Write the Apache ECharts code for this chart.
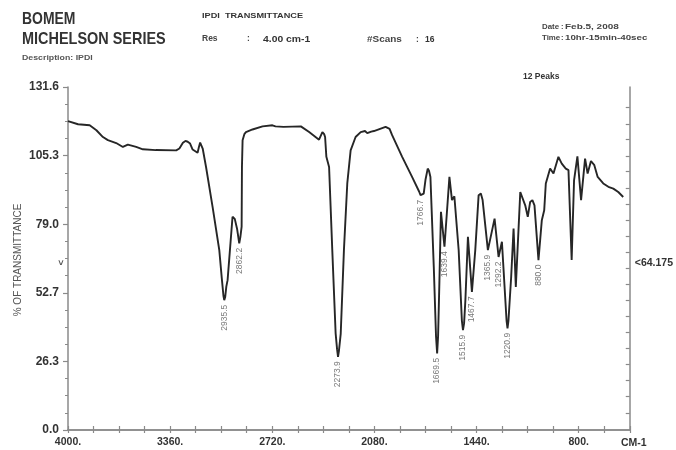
<!DOCTYPE html>
<html><head><meta charset="utf-8">
<script src="https://cdn.jsdelivr.net/npm/echarts@6/dist/echarts.min.js"></script>
<style>html,body{margin:0;padding:0;background:#fff}#c{width:676px;height:450px}</style>
</head><body><div id="c"></div>
<script>
// Spectrum: [wavenumber (axis units, cm-1), % transmittance]
const spectrum = [
[4000,118.5],[3937,117.3],[3864,116.9],[3822,115.0],[3781,112.4],[3750,111.2],[3698,110.1],[3656,108.6],[3625,109.5],[3573,108.6],[3531,107.7],[3450,107.4],[3322,107.3],[3302,108.0],[3280,110.2],[3264,110.9],[3250,110.6],[3235,109.9],[3219,107.6],[3188,106.4],[3180,108.5],[3172,110.3],[3156,108.0],[3135,100.9],[3094,85.6],[3052,69.0],[3036,58.0],[3026,51.5],[3021,49.8],[3015,51.0],[3008,55.0],[3000,57.5],[2969,81.8],[2955,81.0],[2940,77.0],[2927,71.6],[2920,74.0],[2912,78.0],[2910,100.9],[2906,111.2],[2895,113.5],[2885,114.3],[2844,115.3],[2781,116.5],[2719,116.9],[2700,116.5],[2688,116.0],[2650,116.3],[2541,116.5],[2489,114.3],[2427,111.4],[2415,112.0],[2406,114.3],[2395,113.5],[2389,112.4],[2381,104.8],[2364,100.9],[2344,69.0],[2323,37.1],[2314,31.0],[2308,28.1],[2302,30.5],[2291,37.0],[2271,69.0],[2250,94.6],[2229,107.3],[2198,112.4],[2166,114.3],[2139,114.7],[2125,113.9],[2114,113.7],[2100,114.5],[2083,114.7],[2010,116.3],[1985,115.5],[1969,113.1],[1906,104.8],[1844,97.1],[1800,91.5],[1791,90.1],[1780,90.3],[1771,90.7],[1760,96.0],[1746,100.3],[1738,99.5],[1729,97.1],[1708,62.6],[1694,36.0],[1687,29.4],[1681,36.0],[1673,56.2],[1663,83.7],[1641,70.3],[1610,97.1],[1594,88.2],[1579,89.7],[1552,69.0],[1532,42.0],[1525,38.3],[1518,41.0],[1510,49.8],[1494,74.1],[1469,53.0],[1448,69.0],[1427,90.1],[1413,90.7],[1402,88.2],[1369,69.0],[1327,81.1],[1302,66.4],[1281,72.2],[1252,42.0],[1246,39.0],[1240,42.0],[1223,58.8],[1208,77.3],[1194,54.9],[1166,91.3],[1135,86.2],[1119,81.8],[1104,87.5],[1090,88.2],[1077,86.2],[1052,65.2],[1031,80.5],[1016,84.3],[1006,94.6],[979,100.3],[958,98.4],[927,104.8],[906,102.2],[881,100.3],[864,99.7],[844,65.2],[829,95.8],[808,105.0],[785,88.2],[760,104.1],[744,98.4],[723,103.2],[702,101.6],[681,97.1],[646,94.6],[614,93.3],[583,92.6],[552,91.3],[521,89.4]
];
// Peak markers: position on the plot and their printed labels
const peakPositions = [[3021,49.8],[2927,71.6],[2308,28.1],[1791,90.1],[1687,29.4],[1641,70.3],[1525,38.3],[1469,53.0],[1369,69.0],[1302,66.4],[1246,39.0],[1052,65.2]];
const peakLabels = ['2935.5','2862.2','2273.9','1766.7','1669.5','1639.4','1515.9','1467.7','1365.9','1292.2','1220.9','880.0'];
// Axis ticks / labels
const xTickValues = [4000,3360,2720,2080,1440,800];
const xTickLabels = ['4000.','3360.','2720.','2080.','1440.','800.'];
const yTickLabels = ['0.0','26.3','52.7','79.0','105.3','131.6'];
const rightTickValues = [6.6,12.8,18.9,25.1,31.3,37.4,43.6,49.7,55.9,62.1,68.2,74.4,80.6,86.7,92.9,99.1,105.2,111.4,117.5,123.7];
const markerValue = 64.175;
const markerText = '<64.175';

const FONT = '"Liberation Sans", Arial, sans-serif';
const AX = '#8a8a8a';
const chart = echarts.init(document.getElementById('c'), null, {renderer: 'canvas'});

function txt(x, y, text, font, fill, sx) {
  return {type: 'text', x: x, y: y, scaleX: sx || 1, style: {text: text, font: font, fill: fill || '#333', textVerticalAlign: 'middle'}};
}

const option = {
  animation: false,
  textStyle: {fontFamily: FONT},
  grid: {left: 68, top: 87, width: 562, height: 343},
  xAxis: [{
    type: 'value', inverse: true, min: 480, max: 4000, interval: 160,
    axisLine: {lineStyle: {color: AX, width: 1.5}},
    axisTick: {inside: true, length: 4, lineStyle: {color: AX, width: 1.2}},
    axisLabel: {customValues: xTickValues, formatter: v => xTickLabels[xTickValues.indexOf(v)],
      fontWeight: 'bold', fontSize: 10.5, color: '#333', margin: 7, fontFamily: FONT},
    splitLine: {show: false}
  }, {
    type: 'value', inverse: true, min: 480, max: 4000, interval: 160, position: 'top',
    axisLine: {lineStyle: {color: AX, width: 1.5}},
    axisTick: {inside: true, length: 3, lineStyle: {color: AX, width: 1.2}},
    axisLabel: {show: false}, splitLine: {show: false}
  }],
  yAxis: [{
    type: 'value', min: 0, max: 131.6, interval: 26.32,
    axisLine: {show: true, lineStyle: {color: AX, width: 1.5}},
    axisTick: {show: true, length: 5, lineStyle: {color: AX, width: 1.2}},
    minorTick: {show: true, splitNumber: 4, length: 3, lineStyle: {color: AX, width: 1}},
    axisLabel: {formatter: v => yTickLabels[Math.round(v / 26.32)], fontWeight: 'bold', fontSize: 12, color: '#333', margin: 9, fontFamily: FONT},
    splitLine: {show: false}
  }, {
    type: 'value', min: 0, max: 131.6, position: 'right',
    axisLine: {show: true, lineStyle: {color: AX, width: 1.5}},
    axisTick: {show: true, inside: true, length: 4, customValues: rightTickValues, lineStyle: {color: AX, width: 1.2}},
    axisLabel: {customValues: [markerValue], formatter: () => markerText, fontWeight: 'bold', fontSize: 10.5, color: '#333', margin: 5, fontFamily: FONT},
    splitLine: {show: false}
  }],
  series: [{
    type: 'line', data: spectrum, showSymbol: false, symbol: 'none',
    lineStyle: {color: '#262626', width: 1.9}, xAxisIndex: 0, yAxisIndex: 0, z: 3
  }, {
    type: 'scatter', data: peakPositions, symbolSize: 1, itemStyle: {color: 'rgba(0,0,0,0)'},
    label: {show: true, formatter: p => peakLabels[p.dataIndex], position: 'bottom', distance: 4,
      rotate: 90, align: 'right', verticalAlign: 'middle', fontSize: 8.5, color: '#555', fontFamily: FONT},
    xAxisIndex: 0, yAxisIndex: 0, z: 4
  }],
  graphic: [
    txt(22, 19, 'BOMEM', 'bold 17px ' + FONT, '#333', 0.82),
    txt(22, 39, 'MICHELSON SERIES', 'bold 17px ' + FONT, '#333', 0.85),
    txt(22, 58, 'Description: IPDI', 'bold 7.5px ' + FONT, '#555', 1.17),
    txt(202, 16, 'IPDI  TRANSMITTANCE', 'bold 7.5px ' + FONT, '#333', 1.22),
    txt(202, 39, 'Res', 'bold 8.5px ' + FONT, '#444'),
    txt(247, 39, ':', 'bold 8.5px ' + FONT, '#444'),
    txt(263, 39, '4.00 cm-1', 'bold 9.5px ' + FONT, '#333', 1.09),
    txt(367, 40, '#Scans', 'bold 8.5px ' + FONT, '#444', 1.17),
    txt(416, 40, ':', 'bold 8.5px ' + FONT, '#444'),
    txt(425, 40, '16', 'bold 8.5px ' + FONT, '#333'),
    txt(542, 27, 'Date', 'bold 7.5px ' + FONT, '#444', 1.05),
    txt(561, 27, ':', 'bold 7.5px ' + FONT, '#444'),
    txt(565, 27, 'Feb.5, 2008', 'bold 7.5px ' + FONT, '#444', 1.33),
    txt(542, 38, 'Time', 'bold 7.5px ' + FONT, '#444', 1.05),
    txt(561, 38, ':', 'bold 7.5px ' + FONT, '#444'),
    txt(565, 38, '10hr-15min-40sec', 'bold 7.5px ' + FONT, '#444', 1.3),
    txt(523, 77, '12 Peaks', 'bold 8.5px ' + FONT, '#333'),
    txt(621, 443, 'CM-1', 'bold 10.5px ' + FONT, '#333'),
    {type: 'text', x: 18, y: 260, rotation: Math.PI / 2, style: {text: '% OF TRANSMITTANCE', font: '10px ' + FONT, fill: '#555', textAlign: 'center', textVerticalAlign: 'middle'}}
  ]
};
chart.setOption(option);
// left-side marker at the same level as the right-side value marker
const my = chart.convertToPixel({yAxisIndex: 0}, markerValue);
chart.setOption({graphic: option.graphic.concat([
  {type: 'text', x: 62, y: my, rotation: Math.PI / 2, style: {text: '<', font: 'bold 9px ' + FONT, fill: '#555', textAlign: 'center', textVerticalAlign: 'middle'}}
])});
</script></body></html>
